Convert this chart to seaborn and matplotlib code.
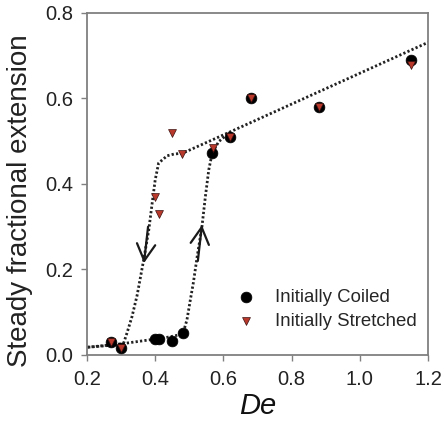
import numpy as np
import pandas as pd
import matplotlib
matplotlib.use("Agg")
import matplotlib.pyplot as plt
import seaborn as sns

# measured points
coiled_de = [0.27, 0.30, 0.40, 0.41, 0.45, 0.48, 0.566, 0.62, 0.68, 0.88, 1.15]
coiled_ext = [0.031, 0.017, 0.037, 0.038, 0.033, 0.052, 0.472, 0.51, 0.60, 0.581, 0.69]
stretched_de = [0.27, 0.30, 0.398, 0.41, 0.449, 0.479, 0.568, 0.62, 0.68, 0.88, 1.15]
stretched_ext = [0.031, 0.017, 0.37, 0.33, 0.52, 0.47, 0.484, 0.51, 0.60, 0.581, 0.678]

# dotted guide curves
coiled_curve_x = [0.20, 0.30, 0.38, 0.44, 0.47, 0.483, 0.493, 0.503, 0.512, 0.523,
                  0.537, 0.547, 0.557, 0.567, 0.586, 0.62]
coiled_curve_y = [0.018, 0.026, 0.035, 0.042, 0.047, 0.055, 0.082, 0.129, 0.17, 0.23,
                  0.30, 0.37, 0.433, 0.472, 0.499, 0.522]
stretched_curve_x = [1.205, 0.62, 0.48, 0.455, 0.435, 0.41, 0.40, 0.391, 0.381, 0.366,
                     0.347, 0.332, 0.317, 0.307, 0.29, 0.20]
stretched_curve_y = [0.733, 0.522, 0.472, 0.470, 0.466, 0.449, 0.41, 0.355, 0.292, 0.222,
                     0.14, 0.09, 0.051, 0.027, 0.024, 0.018]

x_ticks = [0.2, 0.4, 0.6, 0.8, 1.0, 1.2]
y_ticks = [0.0, 0.2, 0.4, 0.6, 0.8]

sns.set_style("ticks")
plt.rcParams['font.family'] = ['Liberation Sans', 'DejaVu Sans']

coiled = pd.DataFrame({'De': coiled_de, 'ext': coiled_ext})
stretched = pd.DataFrame({'De': stretched_de, 'ext': stretched_ext})
curve_c = pd.DataFrame({'De': coiled_curve_x, 'ext': coiled_curve_y})
curve_s = pd.DataFrame({'De': stretched_curve_x, 'ext': stretched_curve_y})

fig = plt.figure(figsize=(4.44, 4.26), dpi=100)
ax = fig.add_axes([0.196, 0.1667, 0.768, 0.8028])

sns.lineplot(data=curve_c, x='De', y='ext', sort=False, ax=ax, color='#222222',
             linestyle=(0, (0.8, 0.8)), linewidth=2.0, zorder=2)
sns.lineplot(data=curve_s, x='De', y='ext', sort=False, ax=ax, color='#222222',
             linestyle=(0, (0.8, 0.8)), linewidth=2.0, zorder=2)

sns.scatterplot(data=coiled, x='De', y='ext', ax=ax, marker='o', s=60,
                color='black', edgecolor='black', linewidth=0.5,
                label='Initially Coiled', zorder=3)
sns.scatterplot(data=stretched, x='De', y='ext', ax=ax, marker='v', s=32,
                color='#b8392b', edgecolor='#3a1010', linewidth=0.5,
                label='Initially Stretched', zorder=4)

# direction arrows
arrow = dict(arrowstyle='->, head_length=0.6, head_width=0.33', color='#1a1a1a',
             lw=1.6, mutation_scale=20, shrinkA=0, shrinkB=0)
ax.annotate('', xy=(0.367, 0.215), xytext=(0.379, 0.30), arrowprops=arrow, zorder=5)
ax.annotate('', xy=(0.537, 0.304), xytext=(0.525, 0.22), arrowprops=arrow, zorder=5)

ax.set_xlim(0.2, 1.2)
ax.set_ylim(0.0, 0.8)
ax.set_xticks(x_ticks)
ax.set_yticks(y_ticks)
ax.set_xticklabels([f'{t:.1f}' for t in x_ticks])
ax.set_yticklabels([f'{t:.1f}' for t in y_ticks])
ax.tick_params(axis='both', labelsize=14.5, labelcolor='#222222', color='#808080',
               length=4, width=1.0, direction='out')
ax.tick_params(axis='x', pad=7)
ax.tick_params(axis='y', pad=6)
for sp in ax.spines.values():
    sp.set_visible(True)
    sp.set_color('#808080')
    sp.set_linewidth(1.3)

ax.set_xlabel('De', fontsize=21, style='italic', color='#111111', labelpad=2)
ax.set_ylabel('Steady fractional extension', fontsize=20, color='#222222')
ax.yaxis.set_label_coords(-0.158, 0.45)

ax.legend(loc='lower left', bbox_to_anchor=(0.405, 0.045), frameon=False,
          fontsize=13.4, handletextpad=1.0, labelspacing=0.38, borderpad=0,
          markerscale=1.0, handlelength=1.2)

fig.savefig('out.png', dpi=100)
